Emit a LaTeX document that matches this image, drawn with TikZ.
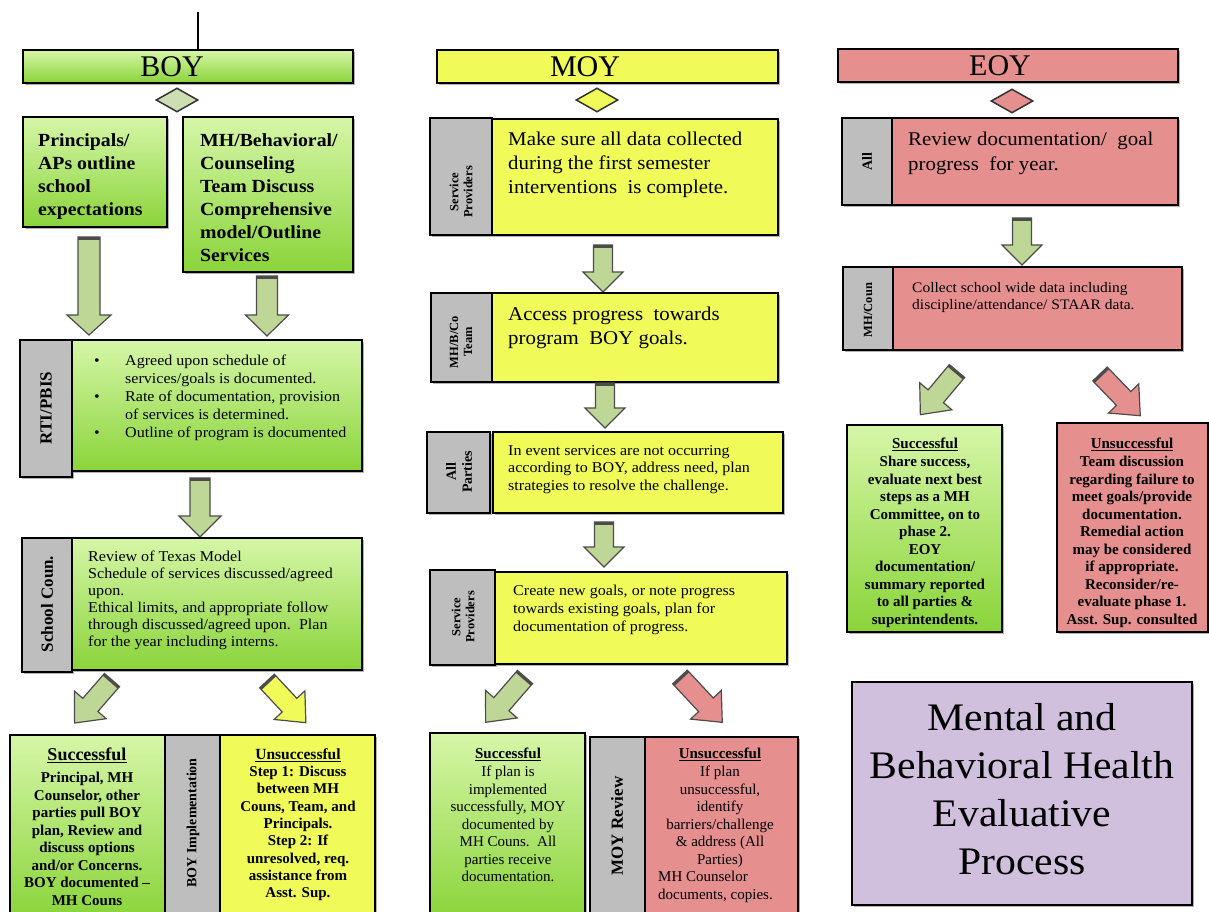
\documentclass[tikz,border=0pt]{standalone}
\usepackage{fontspec}
\setmainfont{Liberation Serif}
\newfontfamily\wide{Liberation Serif}[FakeStretch=1.07]
\usetikzlibrary{shapes.geometric,shadows}
\definecolor{gtop}{RGB}{214,246,168}
\definecolor{gbot}{RGB}{138,212,58}
\definecolor{ylw}{RGB}{240,250,88}
\definecolor{rd}{RGB}{229,143,143}
\definecolor{gry}{RGB}{190,190,190}
\definecolor{prp}{RGB}{208,192,222}
\definecolor{arrg}{RGB}{190,214,150}
\definecolor{dia}{RGB}{205,222,178}
\newcommand{\rbox}[6]{\node[#1, minimum width={#5-#3}, minimum height={#6-#4}, anchor=north west] (#2) at (#3,#4) {};}
\newcommand{\blockarr}[8]{%
\begin{scope}[shift={(#1,#2)},rotate=#3]
\draw[blkarrow,fill=#8] (0,{-(#5)/2}) -- ({#4-#7},{-(#5)/2}) -- ({#4-#7},{-(#6)/2}) -- (#4,0) -- ({#4-#7},{(#6)/2}) -- ({#4-#7},{(#5)/2}) -- (0,{(#5)/2}) -- cycle;
\draw[line width=2.5pt,black!70] (1.5,{-(#5)/2}) -- (1.5,{(#5)/2});
\end{scope}}
\newcommand{\fs}[2]{\fontsize{#1}{#2}\selectfont}
\begin{document}
\begin{tikzpicture}[x=1pt,y=-1pt,
  box/.style={draw=black, line width=1.8pt, inner sep=0pt, outer sep=0pt,
    drop shadow={shadow xshift=2pt,shadow yshift=-2pt,opacity=.3,fill=black}},
  greenbox/.style={box, top color=gtop, bottom color=gbot},
  yellowbox/.style={box, fill=ylw},
  redbox/.style={box, fill=rd},
  graybox/.style={box, fill=gry},
  purplebox/.style={box, fill=prp, line width=2.5pt},
  blkarrow/.style={draw=black!70, line width=1.2pt, line join=miter},
  dmd/.style={diamond, draw=black!80, line width=1.5pt, minimum width=42, minimum height=24, inner sep=0pt},
  tx/.style={inner sep=0pt, align=left, anchor=north west},
  ctx/.style={inner sep=0pt, align=center, anchor=north},
  lbl/.style={rotate=90, inner sep=0pt, align=center, font=\bfseries},
  hd/.style={inner sep=0pt, anchor=center}]
\useasboundingbox (0,0) rectangle (1209,912);
\fill[white] (0,0) rectangle (1209,912);
\clip (0,0) rectangle (1209,912);

% ---------------- BOY ----------------
\coordinate (topend) at (198,12);
\rbox{greenbox}{boyh}{23}{50}{353}{83}
\draw[line width=1.2pt] (topend) -- (topend |- boyh.north);
\node[hd, font=\fs{30}{30}] (boyt) at (172,67) {BOY};
\node[dmd, fill=dia] (d1) at (177,100) {};

\rbox{greenbox}{p1}{23}{117}{167}{227}
\rbox{greenbox}{p2}{183}{117}{353}{272}
\node[tx, font=\wide\fs{18.5}{23}\bfseries] (p1t) at (38,133) {Principals/\\APs outline\\school\\expectations};
\node[tx, font=\wide\fs{18.5}{23}\bfseries] (p2t) at (200,133) {MH/Behavioral/\\Counseling\\Team Discuss\\Comprehensive\\model/Outline\\Services};

\blockarr{89}{237}{-90}{98}{22}{44}{20}{arrg}
\blockarr{267}{276}{-90}{60}{21}{43}{21}{arrg}

\rbox{graybox}{rtil}{20}{340}{72}{477}
\rbox{greenbox}{rti}{72}{340}{362}{471}
\node[lbl, font=\fs{17}{17}\bfseries] (rtit) at (46,408) {RTI/PBIS};
\node[tx, font=\wide\fs{15}{18}] (rtib) at (94,355) {\makebox[31pt][l]{\textbullet}Agreed upon schedule of\\\hspace*{31pt}services/goals is documented.\\\makebox[31pt][l]{\textbullet}Rate of documentation, provision\\\hspace*{31pt}of services is determined.\\\makebox[31pt][l]{\textbullet}Outline of program is documented};

\blockarr{200}{478}{-90}{59}{20}{42}{21}{arrg}

\rbox{graybox}{scl}{22}{538}{72}{672}
\rbox{greenbox}{sc}{72}{538}{362}{670}
\node[lbl, font=\fs{17}{17}\bfseries] (sct) at (47,604) {School Coun.};
\node[tx, font=\wide\fs{15}{17}] (scb) at (88,551) {Review of Texas Model\\Schedule of services discussed/agreed\\upon.\\Ethical limits, and appropriate follow\\through discussed/agreed upon.\ \ Plan\\for the year including interns.};

\blockarr{112}{680}{-131}{57}{20}{42}{24}{arrg}
\blockarr{267}{681}{-47}{57}{20}{42}{24}{ylw}

\rbox{greenbox}{bs}{10}{735}{165}{920}
\rbox{graybox}{bl}{165}{735}{220}{920}
\rbox{yellowbox}{bu}{220}{735}{375}{920}
\node[ctx, font=\fs{18}{20}\bfseries] (bsh) at (87,748) {\underline{Successful}};
\node[ctx, font=\fs{15}{17.5}\bfseries] (bsb) at (87,772) {Principal, MH\\Counselor, other\\parties pull BOY\\plan, Review and\\discuss options\\and/or Concerns.\\BOY documented –\\MH Couns};
\node[lbl, font=\fs{14}{14}\bfseries] (blt) at (193,823) {BOY Implementation};
\node[ctx, font=\fs{15.5}{17}\bfseries] (buh) at (298,748) {\underline{Unsuccessful}};
\node[ctx, font=\fs{15}{17.3}\bfseries] (bub) at (298,766) {Step 1: Discuss\\between MH\\Couns, Team, and\\Principals.\\Step 2: If\\unresolved, req.\\assistance from\\Asst. Sup.};

% ---------------- MOY ----------------
\rbox{yellowbox}{moyh}{437}{50}{778}{83}
\node[hd, font=\fs{30}{30}] (moyt) at (585,67) {MOY};
\node[dmd, fill=ylw] (d2) at (597,100) {};

\rbox{graybox}{m1l}{430}{118}{492}{235}
\rbox{yellowbox}{m1}{492}{119}{778}{235}
\node[lbl, font=\fs{12.5}{14}\bfseries] (m1lt) at (461,192) {Service\\Providers};
\node[tx, font=\wide\fs{19.5}{24}] (m1t) at (508,132) {Make sure all data collected\\during the first semester\\interventions\ \ is complete.};

\blockarr{603}{245}{-90}{47}{19}{40}{20}{arrg}

\rbox{graybox}{m2l}{431}{293}{492}{382}
\rbox{yellowbox}{m2}{492}{293}{778}{382}
\node[lbl, font=\fs{12.5}{14}\bfseries] (m2lt) at (461,342) {MH/B/Co\\Team};
\node[tx, font=\wide\fs{19.5}{24}] (m2t) at (508,307) {Access progress\ \ towards\\program\ \ BOY goals.};

\blockarr{605}{383}{-90}{45}{19}{40}{20}{arrg}

\rbox{graybox}{m3l}{427}{432}{490}{513}
\rbox{yellowbox}{m3}{493}{432}{783}{513}
\node[lbl, font=\fs{14}{16}\bfseries] (m3lt) at (459,472) {All\\Parties};
\node[tx, font=\wide\fs{15}{17.5}] (m3t) at (508,445) {In event services are not occurring\\according to BOY, address need, plan\\strategies\ to resolve the challenge.};

\blockarr{604}{522}{-90}{45}{19}{40}{20}{arrg}

\rbox{graybox}{m4l}{430}{570}{495}{665}
\rbox{yellowbox}{m4}{495}{572}{787}{664}
\node[lbl, font=\fs{12.5}{14}\bfseries] (m4lt) at (463,617) {Service\\Providers};
\node[tx, font=\wide\fs{15}{18}] (m4t) at (513,585) {Create new goals, or note progress\\towards existing goals, plan for\\documentation of progress.};

\blockarr{525}{677}{-131}{60}{20}{42}{24}{arrg}
\blockarr{680}{677}{-47}{62}{20}{42}{24}{rd}

\rbox{greenbox}{ms}{430}{733}{585}{920}
\rbox{graybox}{ml}{590}{737}{645}{920}
\rbox{redbox}{mu}{645}{737}{798}{920}
\node[ctx, font=\fs{15}{17}\bfseries] (msh) at (508,748) {\underline{Successful}};
\node[ctx, font=\fs{15}{17.5}] (msb) at (508,766) {If plan is\\implemented\\successfully, MOY\\documented by\\MH Couns.\ \ All\\parties receive\\documentation.};
\node[lbl, font=\fs{17}{17}\bfseries] (mlt) at (617,826) {MOY Review};
\node[ctx, font=\fs{15}{17}\bfseries] (muh) at (720,748) {\underline{Unsuccessful}};
\node[ctx, font=\fs{15}{17.5}] (mub) at (720,766) {If plan\\unsuccessful,\\identify\\barriers/challenge\\\& address (All\\Parties)};
\node[tx, font=\fs{15}{17.5}] (mub2) at (658,871) {MH Counselor\\documents, copies.};

% ---------------- EOY ----------------
\rbox{redbox}{eoyh}{838}{49}{1178}{82}
\node[hd, font=\fs{30}{30}] (eoyt) at (1000,66) {EOY};
\node[dmd, fill=rd] (d3) at (1012,101) {};

\rbox{graybox}{e1l}{842}{118}{892}{205}
\rbox{redbox}{e1}{892}{118}{1178}{205}
\node[lbl, font=\fs{14}{14}\bfseries] (e1lt) at (867,162) {All};
\node[tx, font=\wide\fs{19.5}{25}] (e1t) at (908,132) {Review documentation/\ \ goal\\progress\ \ for year.};

\blockarr{1022}{218}{-90}{47}{19}{40}{20}{arrg}

\rbox{graybox}{e2l}{843}{267}{893}{350}
\rbox{redbox}{e2}{893}{267}{1182}{350}
\node[lbl, font=\fs{12.5}{14}\bfseries] (e2lt) at (868,310) {MH/Coun};
\node[tx, font=\wide\fs{14.5}{17.5}] (e2t) at (912,282) {Collect school wide data including\\discipline/attendance/ STAAR data.};

\blockarr{957}{371}{-130}{57}{20}{42}{24}{arrg}
\blockarr{1100}{374}{-46}{58}{20}{42}{24}{rd}

\rbox{greenbox}{es}{847}{425}{1002}{632}
\rbox{redbox}{eu}{1057}{423}{1208}{632}
\node[ctx, font=\fs{15}{17}\bfseries] (esh) at (925,438) {\underline{Successful}};
\node[ctx, font=\fs{15}{17.5}\bfseries] (esb) at (925,456) {Share success,\\evaluate next best\\steps as a MH\\Committee, on to\\phase 2.\\EOY\\documentation/\\summary reported\\to all parties \&\\superintendents.};
\node[ctx, font=\fs{15}{17}\bfseries] (euh) at (1132,438) {\underline{Unsuccessful}};
\node[ctx, font=\fs{15}{17.5}\bfseries] (eub) at (1132,456) {Team discussion\\regarding failure to\\meet goals/provide\\documentation.\\Remedial action\\may be considered\\if appropriate.\\Reconsider/re-\\evaluate phase 1.\\Asst. Sup. consulted};

\rbox{purplebox}{title}{852}{682}{1192}{905}
\node[ctx, font=\wide\fs{39}{48}] (titlet) at (1022,703) {Mental and\\Behavioral Health\\Evaluative\\Process};
\end{tikzpicture}
\end{document}
